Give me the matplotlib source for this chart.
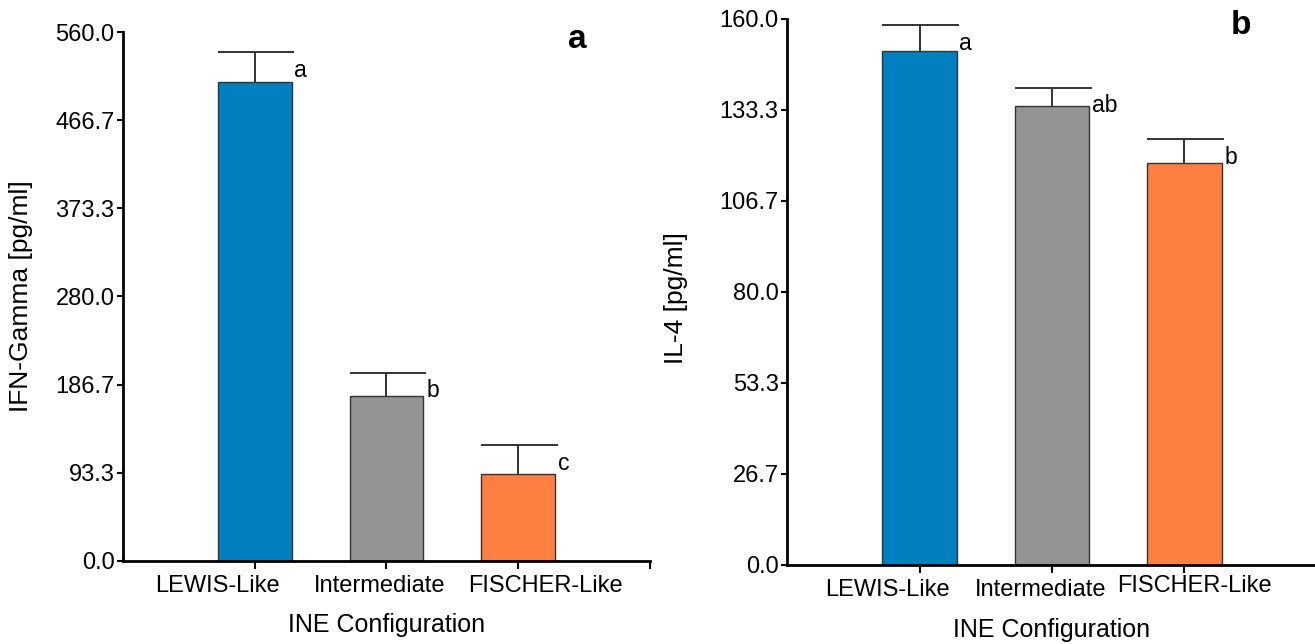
import numpy as np
import matplotlib
matplotlib.use('Agg')
import matplotlib.pyplot as plt
from matplotlib.transforms import ScaledTranslation

plt.rcParams['font.family'] = ['Liberation Sans', 'DejaVu Sans']

categories = ['LEWIS-Like', 'Intermediate', 'FISCHER-Like']
bar_colors = ['#0080c0', '#939393', '#ff7f40']

ifn_mean = [507.6, 174.5, 91.6]
ifn_err = [31.2, 24.8, 31.0]
ifn_letters = ['a', 'b', 'c']

il4_mean = [150.7, 134.5, 117.7]
il4_err = [7.5, 5.4, 7.1]
il4_letters = ['a', 'ab', 'b']


def draw_panel(fig, ax, means, errs, letters, ymax, ylabel, tag, tag_xy, ylab_xy, label_shift):
    x = np.arange(1, len(categories) + 1)
    w = 0.56
    ax.bar(x, means, width=w, color=bar_colors, edgecolor='#333333', linewidth=1.0, zorder=2)
    tops = np.array(means) + np.array(errs)
    ax.vlines(x, means, tops, color='#333333', linewidth=1.4, zorder=3)
    ax.hlines(tops, x - w / 2, x + w / 2 + 0.02, color='#333333', linewidth=1.4, zorder=3)
    for xi, t, lab in zip(x, tops, letters):
        ax.annotate(lab, (xi + w / 2, t), xytext=(2, -13), textcoords='offset points',
                    ha='left', va='center', fontsize=16.5)
    ax.set_xlim(0, 4)
    ax.set_ylim(0, ymax)
    yt = np.linspace(0, ymax, 7)
    ax.set_yticks(yt)
    ax.set_yticklabels([f'{v:.1f}' for v in yt])
    ax.set_xticks([1, 2, 3, 4])
    ax.set_xticklabels(categories + [''])
    ax.tick_params(axis='both', labelsize=17, width=1.5, color='black')
    ax.tick_params(axis='y', length=4, pad=2)
    ax.tick_params(axis='x', length=6, pad=4)
    # the labels sit spread apart, not centred on their ticks
    for lbl, (dx, dy) in zip(ax.get_xticklabels(), label_shift):
        lbl.set_transform(lbl.get_transform() + ScaledTranslation(dx / 100, dy / 100, fig.dpi_scale_trans))
    for s in ['top', 'right']:
        ax.spines[s].set_visible(False)
    for s in ['left', 'bottom']:
        ax.spines[s].set_linewidth(2.0)
    ax.set_ylabel(ylabel, fontsize=19)
    ax.yaxis.set_label_coords(*ylab_xy)
    ax.set_xlabel('INE Configuration', fontsize=18, labelpad=12)
    ax.text(tag_xy[0], tag_xy[1], tag, transform=ax.transAxes, fontsize=24,
            fontweight='bold', ha='center', va='center')


fig = plt.figure(figsize=(13.15, 6.44), dpi=100)
ax1 = fig.add_axes([0.0935, 0.1294, 0.4008, 0.8204])
ax2 = fig.add_axes([0.5985, 0.1227, 0.4030, 0.8478])

draw_panel(fig, ax1, ifn_mean, ifn_err, ifn_letters, 560.0, 'IFN-Gamma [pg/ml]', 'a',
           (0.863, 0.986), (-0.171, 0.5), [(-37, 0), (-7, 0), (27, 0)])
draw_panel(fig, ax2, il4_mean, il4_err, il4_letters, 160.0, 'IL-4 [pg/ml]', 'b',
           (0.857, 0.989), (-0.186, 0.489), [(-32, 0), (-11, 0), (10, 4)])

fig.savefig('out.png', dpi=100)
